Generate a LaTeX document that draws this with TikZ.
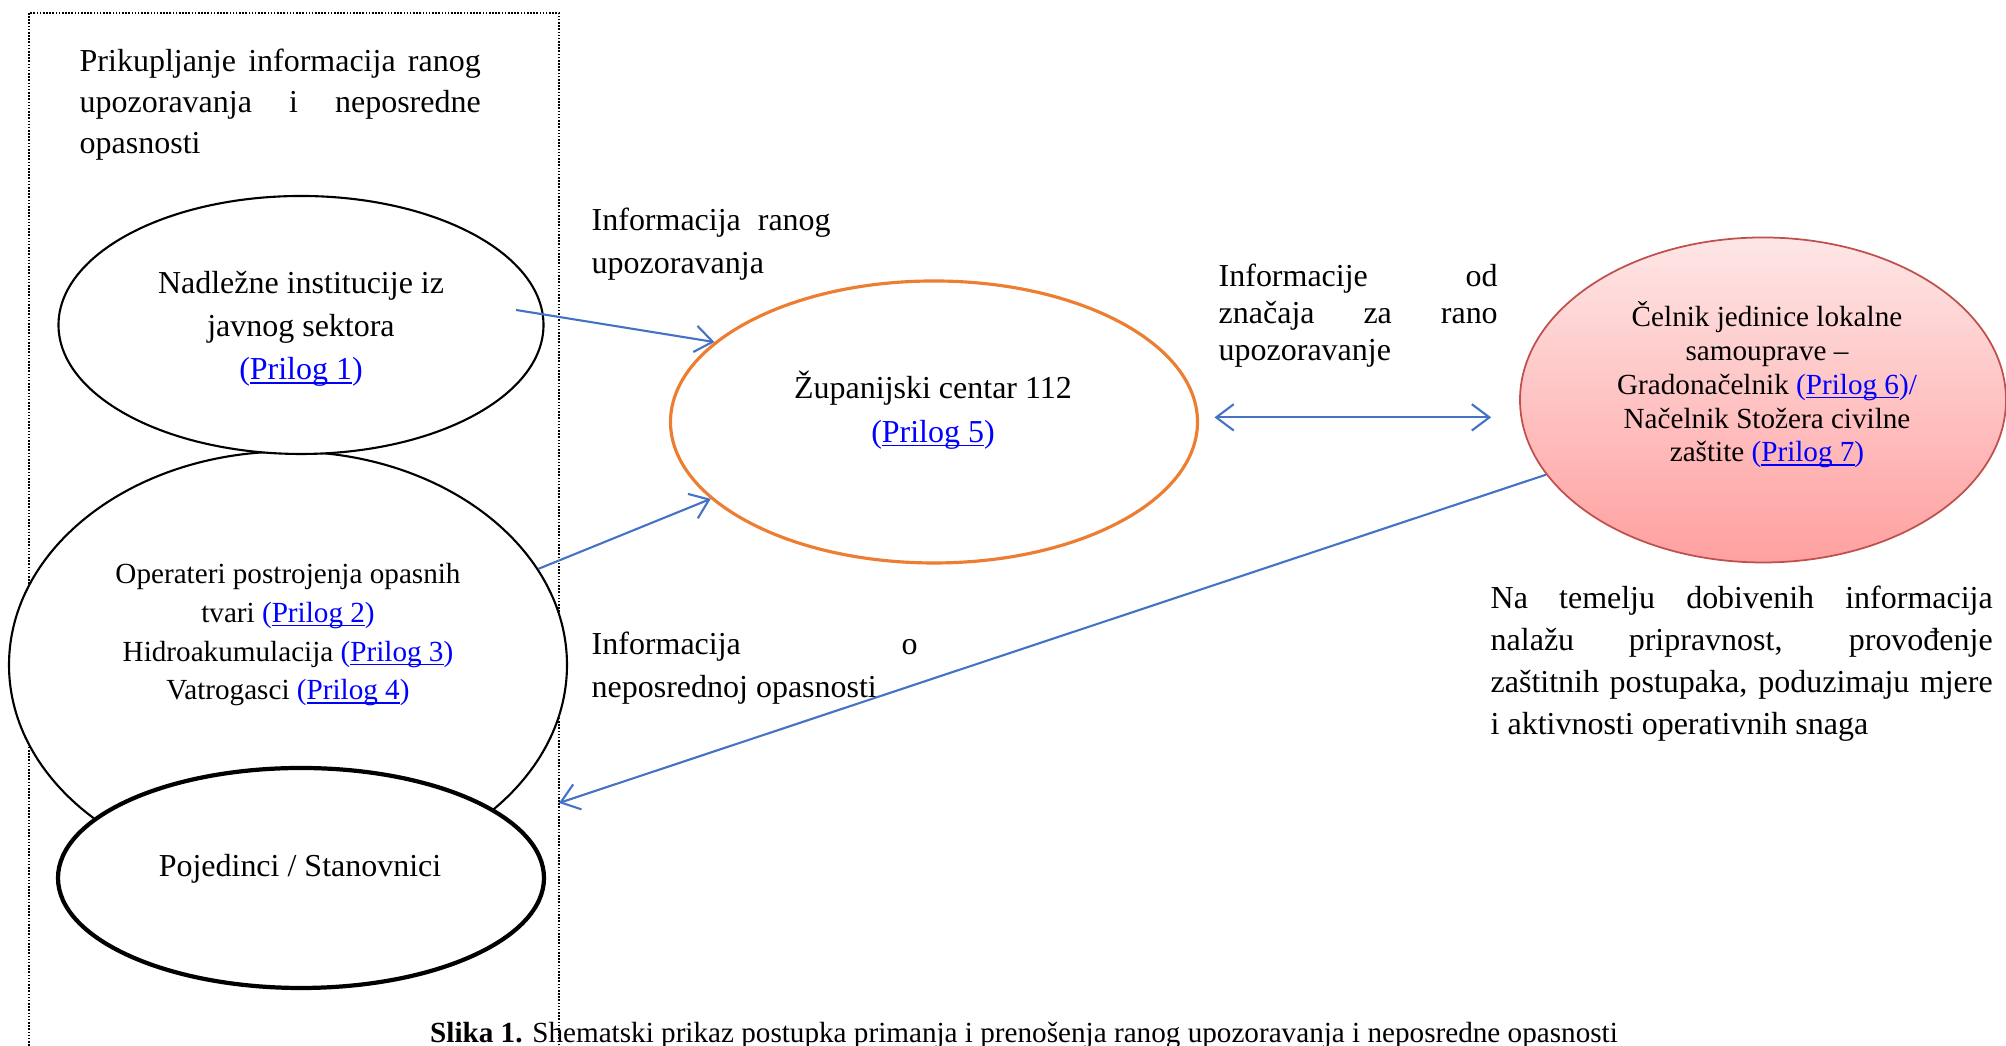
\documentclass[tikz,border=0pt]{standalone}
\usepackage{fontspec}
\setmainfont{Liberation Serif}
\usepackage{tikz}
\usetikzlibrary{shapes.geometric,arrows.meta,calc}
\usepackage{xcolor}

\definecolor{plava}{HTML}{4472C4}
\definecolor{narancasta}{HTML}{ED7D31}
\definecolor{crvena}{HTML}{C0504D}
\definecolor{rozagore}{HTML}{FEE6E6}
\definecolor{rozadolje}{HTML}{FFA0A0}
\definecolor{poveznica}{HTML}{0000FF}
\newcommand{\podvuceno}[1]{\setbox0\hbox{#1}\rlap{\rule[-1.1pt]{\wd0}{0.4pt}}\box0}
\newcommand{\prilog}[1]{{\color{poveznica}(\podvuceno{Prilog~#1})}}
\tolerance=10000
\hbadness=10000
\hyphenpenalty=10000

\begin{document}
\begin{tikzpicture}[
  font=\fontsize{9.1}{12.3}\selectfont,
  krug/.style={ellipse, draw, inner sep=0pt, align=center, line width=0.6pt},
  bijeli/.style={fill=white},
  vrh/.tip={Straight Barb[length=5pt,width=7.5pt]},
  strelica/.style={draw=plava, line width=0.6pt, -vrh},
  opis/.style={anchor=north west, inner sep=0pt, align=justify}
]
\useasboundingbox (0,0) rectangle (20.06,10.46);

% okvir za prikupljanje
\draw[line width=0.5pt, dash pattern=on 0.45pt off 0.45pt] (0.29,10.33) rectangle (5.59,-0.2);
\node[opis, text width=4.01cm, font=\fontsize{9.1}{11.7}\selectfont] (naslov) at (0.79,9.98) {Prikupljanje informacija ranog\linebreak upozoravanja i neposredne\linebreak opasnosti};

% izvori informacija
\node[krug, bijeli, minimum width=5.58cm, minimum height=4.27cm] (operateri) at (2.88,3.81) {};
\node[krug, bijeli, minimum width=4.85cm, minimum height=2.58cm] (institucije) at (3.01,7.21) {};
\node[krug, bijeli, line width=1.2pt, minimum width=4.86cm, minimum height=2.20cm] (stanovnici) at (3.01,1.68) {};
\node[align=center] (institucije-tekst) at (3.01,7.17) {Nadležne institucije iz\\javnog sektora\\\prilog{1}};
\node[align=center, font=\fontsize{8.3}{11}\selectfont] (operateri-tekst) at (2.88,4.11) {Operateri postrojenja opasnih\\tvari \prilog{2}\\Hidroakumulacija \prilog{3}\\Vatrogasci \prilog{4}};
\node (stanovnici-tekst) at (3.00,1.775) {Pojedinci / Stanovnici};

% centar 112
\node[krug, draw=narancasta, line width=0.9pt, minimum width=5.27cm, minimum height=2.82cm] (zupanijski) at (9.34,6.24) {};
\node[align=center, font=\fontsize{9.1}{12.5}\selectfont] (zupanijski-tekst) at (9.33,6.36) {Županijski centar 112\\\prilog{5}};

% celnik
\node[krug, draw=crvena, top color=rozagore, bottom color=rozadolje, line width=0.5pt, minimum width=4.86cm, minimum height=3.25cm] (celnik) at (17.63,6.46) {};
\node[align=center, font=\fontsize{8.3}{9.6}\selectfont] (celnik-tekst) at (17.67,6.61) {Čelnik jedinice lokalne\\samouprave –\\Gradonačelnik \prilog{6}{\color{poveznica}/}\\Načelnik Stožera civilne\\zaštite \prilog{7}};

% opisi
\node[opis, text width=2.39cm] (opis-rano) at (5.91,8.39) {Informacija ranog\linebreak upozoravanja};
\node[opis, text width=2.79cm, font=\fontsize{9.1}{10.6}\selectfont] (opis-znacaj) at (12.18,7.83) {Informacije od\linebreak značaja za rano\linebreak upozoravanje};
\node[opis, text width=3.26cm] (opis-opasnost) at (5.91,4.15) {Informacija o\linebreak neposrednoj opasnosti};
\node[opis, text width=5.02cm, font=\fontsize{9.1}{12}\selectfont] (opis-mjere) at (14.90,4.61) {Na temelju dobivenih informacija\linebreak nalažu pripravnost, provođenje\linebreak zaštitnih postupaka, poduzimaju mjere\linebreak i aktivnosti operativnih snaga};

\node[anchor=base, font=\fontsize{8.3}{10}\selectfont] (slika) at (10.24,0.03) {\textbf{Slika 1.} Shematski prikaz postupka primanja i prenošenja ranog upozoravanja i neposredne opasnosti};

% strelice
\coordinate (izvor-inst) at (5.16,7.36);
\coordinate (kraj-okvir) at (5.59,2.43);
\draw[strelica] (izvor-inst) -- (zupanijski.160);
\draw[strelica] (operateri.21) -- (zupanijski.199);
\draw[strelica, vrh-vrh, shorten <=0.155cm, shorten >=0.28cm] (zupanijski.1) -- (zupanijski.1 -| celnik.west);
\draw[strelica] (celnik.199) -- (kraj-okvir);
\end{tikzpicture}
\end{document}
